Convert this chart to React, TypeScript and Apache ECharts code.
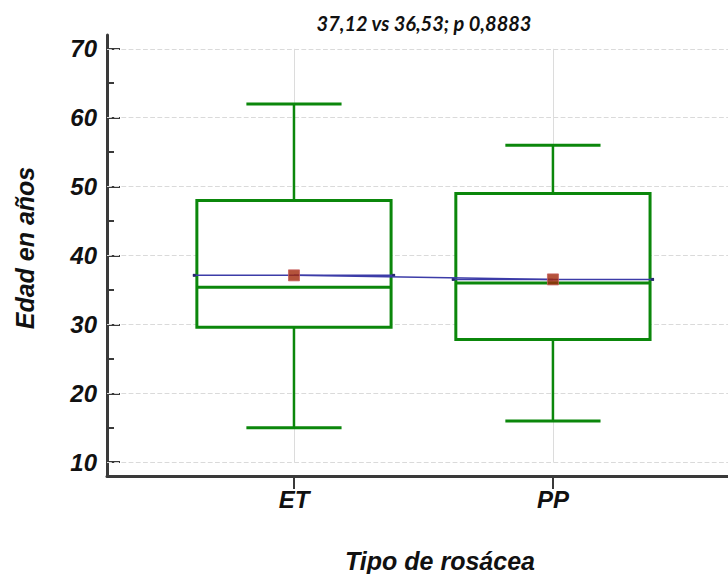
import React, { useEffect, useRef } from "react";
import * as echarts from "echarts";

const categories = ["ET", "PP"];
const positions = [1, 2];
const mins = [15, 16];
const q1s = [29.6, 27.8];
const medians = [35.4, 36];
const q3s = [48, 49];
const maxs = [62, 56];
const means = [37.12, 36.53];
const yTicks = [10, 20, 30, 40, 50, 60, 70];
const yMinorTicks = [15, 25, 35, 45, 55, 65];
const titleText = "37,12 vs 36,53; p 0,8883";

const GREEN = "#0b870b";
const BLUE = "#3c3ca8";
const AXIS = "#3a3a3a";
const FONT = "'Liberation Sans', Arial, sans-serif";

export default function App() {
  const ref = useRef<HTMLDivElement>(null);
  useEffect(() => {
    if (!ref.current) return;
    const chart = echarts.init(ref.current, null, { renderer: "svg" });
    const boxData = positions.map((p, i) => [p, mins[i], q1s[i], medians[i], q3s[i], maxs[i], means[i]]);
    const meanData = positions.map((p, i) => [p, means[i]]);
    const hGrid = yTicks.map((v) => ({ yAxis: v }));
    const vGrid = positions.map((p) => [{ coord: [p, yTicks[0]] }, { coord: [p, yTicks[yTicks.length - 1]] }]);

    const option: any = {
      animation: false,
      backgroundColor: "#ffffff",
      grid: { left: 107, right: 0, top: 35, bottom: 98, containLabel: false },
      xAxis: {
        type: "value",
        min: 0.278,
        max: 2.676,
        axisLine: { show: true, lineStyle: { color: AXIS, width: 3 } },
        axisTick: { show: true, customValues: positions, length: 13, inside: false, lineStyle: { color: AXIS, width: 2 } },
        axisLabel: {
          show: true,
          customValues: positions,
          formatter: (v: number) => categories[positions.indexOf(v)] ?? "",
          fontFamily: FONT,
          fontSize: 24,
          fontWeight: "bold",
          fontStyle: "italic",
          color: "#111",
          margin: 11,
        },
        splitLine: { show: false },
      },
      yAxis: [
        {
          type: "value",
          min: 8,
          max: 72,
          axisLine: { show: true, lineStyle: { color: AXIS, width: 3 } },
          axisTick: { show: true, customValues: yTicks, length: 13, inside: true, lineStyle: { color: AXIS, width: 2 } },
          axisLabel: {
            show: true,
            customValues: yTicks,
            fontFamily: FONT,
            fontSize: 24,
            fontWeight: "bold",
            fontStyle: "italic",
            color: "#111",
            margin: 10,
          },
          splitLine: { show: false },
        },
        {
          type: "value",
          min: 8,
          max: 72,
          position: "left",
          axisLine: { show: false },
          axisTick: { show: true, customValues: yMinorTicks, length: 7, inside: true, lineStyle: { color: AXIS, width: 2 } },
          axisLabel: { show: false },
          splitLine: { show: false },
        },
      ],
      graphic: [
        {
          type: "text",
          x: 424,
          y: 23,
          style: {
            text: titleText,
            font: "italic bold 20px Lato, 'Open Sans', sans-serif",
            fill: "#111",
            textAlign: "center",
            textVerticalAlign: "middle",
          },
        },
        {
          type: "text",
          x: 440,
          y: 561,
          style: {
            text: "Tipo de rosácea",
            font: `italic bold 25px ${FONT}`,
            fill: "#111",
            textAlign: "center",
            textVerticalAlign: "middle",
          },
        },
        {
          type: "text",
          x: 25,
          y: 248,
          rotation: Math.PI / 2,
          style: {
            text: "Edad en años",
            font: `italic bold 25px ${FONT}`,
            fill: "#111",
            textAlign: "center",
            textVerticalAlign: "middle",
          },
        },
      ],
      series: [
        {
          type: "custom",
          name: "box",
          z: 3,
          data: boxData,
          renderItem: (params: any, api: any) => {
            const x = api.value(0);
            const vMin = api.value(1);
            const vQ1 = api.value(2);
            const vMed = api.value(3);
            const vQ3 = api.value(4);
            const vMax = api.value(5);
            const vMean = api.value(6);
            const cx = api.coord([x, vMed])[0];
            const yMin = api.coord([x, vMin])[1];
            const yQ1 = api.coord([x, vQ1])[1];
            const yMed = api.coord([x, vMed])[1];
            const yQ3 = api.coord([x, vQ3])[1];
            const yMax = api.coord([x, vMax])[1];
            const yMean = api.coord([x, vMean])[1];
            const boxW = api.size([0.75, 0])[0];
            const capW = boxW * 0.49;
            const l = cx - boxW / 2;
            const r = cx + boxW / 2;
            const green = { stroke: GREEN, lineWidth: 2.5, fill: "none" };
            return {
              type: "group",
              children: [
                { type: "line", shape: { x1: cx, y1: yQ3, x2: cx, y2: yMax }, style: green },
                { type: "line", shape: { x1: cx, y1: yQ1, x2: cx, y2: yMin }, style: green },
                { type: "line", shape: { x1: cx - capW / 2, y1: yMax, x2: cx + capW / 2, y2: yMax }, style: { ...green, lineWidth: 3 } },
                { type: "line", shape: { x1: cx - capW / 2, y1: yMin, x2: cx + capW / 2, y2: yMin }, style: { ...green, lineWidth: 3 } },
                { type: "rect", shape: { x: l, y: yQ3, width: boxW, height: yQ1 - yQ3 }, style: { stroke: GREEN, lineWidth: 3, fill: "#ffffff" } },
                { type: "line", shape: { x1: l, y1: yMed, x2: r, y2: yMed }, style: { ...green, lineWidth: 3 } },
                { type: "line", shape: { x1: l - 4, y1: yMean, x2: r + 4, y2: yMean }, style: { stroke: BLUE, lineWidth: 1.5 } },
                { type: "rect", shape: { x: l - 4, y: yMean - 1.5, width: 3, height: 3 }, style: { fill: "#2a2a70" } },
                { type: "rect", shape: { x: r + 1, y: yMean - 1.5, width: 3, height: 3 }, style: { fill: "#2a2a70" } },
              ],
            };
          },
          markLine: {
            silent: true,
            symbol: "none",
            label: { show: false },
            z: 1,
            lineStyle: { color: "#dadada", type: "dashed", width: 1.2 },
            data: [
              ...hGrid,
              ...vGrid.map((seg) => [
                { ...seg[0], lineStyle: { color: "#dcdcdc", type: "solid", width: 1 } },
                seg[1],
              ]),
            ],
          },
        },
        {
          type: "line",
          name: "mean",
          z: 4,
          data: meanData,
          symbol: "none",
          lineStyle: { color: BLUE, width: 1.5 },
        },
        {
          type: "scatter",
          name: "meanMarker",
          z: 5,
          data: meanData,
          symbol: "rect",
          symbolSize: 11,
          itemStyle: { color: "#a1280a", borderColor: "#c86060", borderWidth: 1 },
        },
      ],
    };
    chart.setOption(option);
    return () => chart.dispose();
  }, []);
  return <div ref={ref} style={{ position: "fixed", left: 0, top: 0, width: 728, height: 574 }} />;
}
